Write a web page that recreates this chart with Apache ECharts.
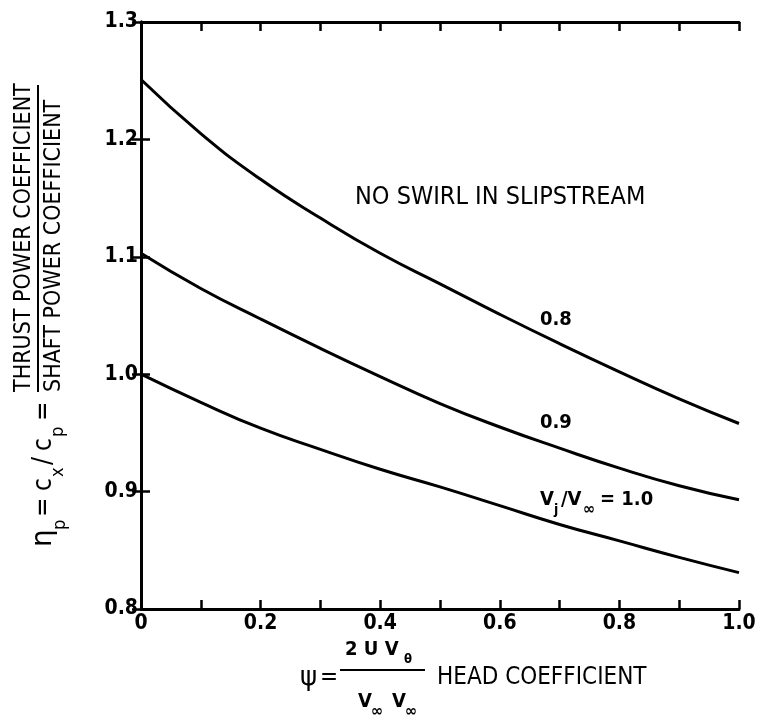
<!DOCTYPE html>
<html>
<head>
<meta charset="utf-8">
<script src="https://cdn.jsdelivr.net/npm/echarts@6/dist/echarts.min.js"></script>
<style>
  html, body { margin: 0; padding: 0; background: #fff; }
  #chart { width: 777px; height: 725px; }
</style>
</head>
<body>
<div id="chart"></div>
<script>
// head coefficient psi, and propulsive efficiency for each Vj/Vinf
const psi = [0, 0.1, 0.2, 0.3, 0.4, 0.5, 0.6, 0.7, 0.8, 0.9, 1.0];
const eta08 = [1.251, 1.205, 1.166, 1.133, 1.103, 1.077, 1.051, 1.026, 1.002, 0.979, 0.958];
const eta09 = [1.103, 1.073, 1.047, 1.022, 0.998, 0.975, 0.955, 0.937, 0.920, 0.905, 0.893];
const eta10 = [1.000, 0.976, 0.954, 0.936, 0.919, 0.904, 0.888, 0.872, 0.858, 0.844, 0.831];
const xTickLabels = ['0', '0.2', '0.4', '0.6', '0.8', '1.0'];
const yTickLabels = ['0.8', '0.9', '1.0', '1.1', '1.2', '1.3'];

const chartDom = document.getElementById('chart');
const myChart = echarts.init(chartDom);

const ink = '#000';
const cond = 'DejaVu Sans Condensed';
const lbl = 'bold 20px "DejaVu Sans Condensed"';

function pairs(ys) {
  return psi.map((x, i) => [x, ys[i]]);
}

function axisBase(extra) {
  return Object.assign({
    type: 'value',
    axisLine: { show: true, lineStyle: { color: ink, width: 3 } },
    axisTick: { show: true, inside: true, length: 9, lineStyle: { color: ink, width: 2.5 } },
    splitLine: { show: false }
  }, extra);
}

function txt(text, x, y, font, align) {
  return {
    type: 'text', x: x, y: y,
    style: { text: text, font: font, fill: ink, align: align || 'left', verticalAlign: 'middle' }
  };
}

function curve(ys) {
  return {
    type: 'line',
    data: pairs(ys),
    smooth: true,
    symbol: 'none',
    lineStyle: { color: ink, width: 3 }
  };
}

let option = {
  animation: false,
  backgroundColor: '#fff',
  grid: { left: 141, top: 22, right: 38, bottom: 116 },
  xAxis: [
    axisBase({
      position: 'bottom', min: 0, max: 1, interval: 0.1,
      axisLabel: {
        color: ink, fontFamily: cond, fontSize: 21, fontWeight: 'bold', margin: 4,
        formatter: (v) => {
          const k = Math.round(v * 10);
          return k % 2 === 0 ? xTickLabels[k / 2] : '';
        }
      }
    }),
    axisBase({ position: 'top', min: 0, max: 1, interval: 0.1, axisLabel: { show: false } })
  ],
  yAxis: [
    axisBase({
      position: 'left', min: 0.8, max: 1.3, interval: 0.1,
      axisLabel: {
        color: ink, fontFamily: cond, fontSize: 21, fontWeight: 'bold', margin: 3,
        formatter: (v) => yTickLabels[Math.round((v - 0.8) * 10)]
      }
    }),
    axisBase({ position: 'right', min: 0.8, max: 1.3, interval: 0.1, axisLabel: { show: false } })
  ],
  series: [curve(eta08), curve(eta09), curve(eta10)],
  graphic: [
    // y axis title, rotated
    {
      type: 'group', x: 0, y: 547, rotation: Math.PI / 2,
      children: [
        txt('η', 0, 44, '28px "DejaVu Sans"'),
        txt('p', 17, 60, '18px "DejaVu Sans Condensed"'),
        txt('=', 30, 44, '26px "DejaVu Sans Condensed"'),
        txt('c', 56, 44, '26px "DejaVu Sans Condensed"'),
        txt('x', 70, 58, '18px "DejaVu Sans Condensed"'),
        txt('/', 82, 44, '26px "DejaVu Sans Condensed"'),
        txt('c', 96, 44, '26px "DejaVu Sans Condensed"'),
        txt('p', 110, 58, '18px "DejaVu Sans Condensed"'),
        txt('=', 126, 44, '26px "DejaVu Sans Condensed"'),
        txt('THRUST POWER COEFFICIENT', 155, 24, '23px "DejaVu Sans Condensed"'),
        { type: 'line', shape: { x1: 155, y1: 38, x2: 462, y2: 38 }, style: { stroke: ink, lineWidth: 2 } },
        txt('SHAFT POWER COEFFICIENT', 155, 54, '23px "DejaVu Sans Condensed"')
      ]
    },
    // x axis title
    txt('ψ', 300, 678, '26px "DejaVu Sans"'),
    txt('=', 320, 678, '24px "DejaVu Sans Condensed"'),
    txt('2 U V', 345, 650, 'bold 20px "DejaVu Sans Condensed"'),
    txt('θ', 404, 660, 'bold 13px "DejaVu Sans Condensed"'),
    { type: 'line', shape: { x1: 340, y1: 670, x2: 425, y2: 670 }, style: { stroke: ink, lineWidth: 2 } },
    txt('V', 358, 702, 'bold 20px "DejaVu Sans Condensed"'),
    txt('∞', 371, 712, 'bold 16px "DejaVu Sans Condensed"'),
    txt('V', 392, 702, 'bold 20px "DejaVu Sans Condensed"'),
    txt('∞', 405, 712, 'bold 16px "DejaVu Sans Condensed"'),
    txt('HEAD COEFFICIENT', 437, 678, '24px "DejaVu Sans Condensed"'),
    // annotations
    txt('NO SWIRL IN SLIPSTREAM', 355, 197, '25px "DejaVu Sans Condensed"'),
    txt('0.8', 540, 320, lbl),
    txt('0.9', 540, 423, lbl),
    txt('V', 540, 500, lbl),
    txt('j', 554, 510, 'bold 14px "DejaVu Sans Condensed"'),
    txt('/V', 561, 500, lbl),
    txt('∞', 583, 510, 'bold 16px "DejaVu Sans Condensed"'),
    txt('= 1.0', 600, 500, lbl)
  ]
};

option && myChart.setOption(option);
</script>
</body>
</html>
